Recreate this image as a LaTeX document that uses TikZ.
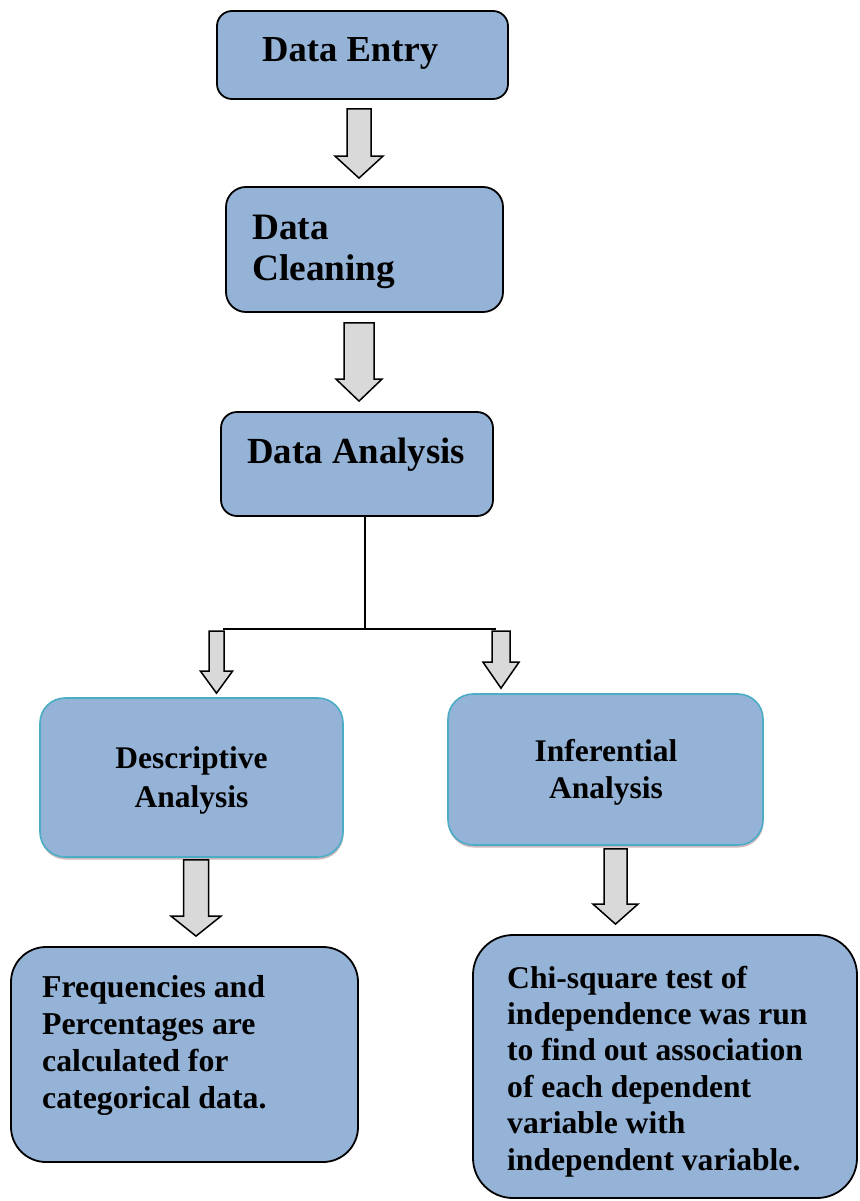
\documentclass[tikz,border=0pt]{standalone}
\usepackage{fontspec}
\setmainfont{Liberation Serif}
\usetikzlibrary{calc,shadows}
\definecolor{boxblue}{HTML}{95B3D7}
\definecolor{tealline}{HTML}{4BACC6}
\definecolor{arrowgray}{HTML}{D9D9D9}
\definecolor{shadowcol}{HTML}{B79A9E}
\tikzset{
  box/.style={draw=black, line width=1.8pt, fill=boxblue, rounded corners=#1, inner sep=0pt},
  softbox/.style={draw=tealline, line width=1.6pt, fill=boxblue, rounded corners=#1, inner sep=0pt,
    drop shadow={shadow xshift=0.5pt, shadow yshift=-2.5pt, fill=shadowcol, opacity=0.7}},
  blockarr/.style={draw=black, line width=1.5pt, fill=arrowgray, line join=miter},
  conn/.style={draw=black, line width=1.6pt},
  txt/.style={inner sep=0pt, text=black, font=\bfseries},
}
\newcommand{\blockarrow}[5]{%
  \draw[blockarr] ($(#2|-#1)+(-#3,0)$) -- ($(#2)+(-#3,-#5)$) -- ($(#2)+(-#4,-#5)$) -- (#2)
    -- ($(#2)+(#4,-#5)$) -- ($(#2)+(#3,-#5)$) -- ($(#2|-#1)+(#3,0)$) -- cycle;}
\begin{document}
\begin{tikzpicture}[x=1pt,y=-1pt]
\useasboundingbox (0,0) rectangle (859,1201);
% boxes
\node[box=15pt, minimum width=291pt, minimum height=88pt] (entry) at (362.5,55) {};
\node[box=20pt, minimum width=277pt, minimum height=125pt] (cleaning) at (364.5,249.5) {};
\node[box=16pt, minimum width=272pt, minimum height=104pt] (analysis) at (357,464) {};
\node[softbox=25pt, minimum width=303pt, minimum height=159pt] (desc) at (191.5,777.5) {};
\node[softbox=25pt, minimum width=315pt, minimum height=151pt] (inf) at (605.5,769.5) {};
\node[box=35pt, minimum width=347pt, minimum height=215pt] (freq) at (184.5,1054.5) {};
\node[box=40pt, minimum width=384pt, minimum height=263pt] (chi) at (665,1066.5) {};
% texts
\node[txt, anchor=base west, font=\bfseries\fontsize{36.6}{44}\selectfont] (entrytxt) at (262,62) {Data Entry};
\node[txt, anchor=base west, align=left, font=\bfseries\fontsize{37.3}{41}\selectfont] (cleaningtxt) at (252,280) {Data\\Cleaning};
\node[txt, anchor=base west, font=\bfseries\fontsize{36.8}{44}\selectfont] (analysistxt) at (247,463) {Data Analysis};
\node[txt, anchor=base, align=center, font=\bfseries\fontsize{31.5}{39}\selectfont] (desctxt) at (191.5,807) {Descriptive\\Analysis};
\node[txt, anchor=base, align=center, font=\bfseries\fontsize{31.5}{36.5}\selectfont] (inftxt) at (606,798) {Inferential\\Analysis};
\node[txt, anchor=base west, align=left, font=\bfseries\fontsize{31.8}{36.7}\selectfont] (freqtxt) at (42,1108)
  {Frequencies and\\Percentages are\\calculated for\\categorical data.};
\node[txt, anchor=base west, align=left, font=\bfseries\fontsize{31.6}{36.4}\selectfont] (chitxt) at (507,1170)
  {Chi-square test of\\independence was run\\to find out association\\of each dependent\\variable with\\independent variable.};
% arrow anchor coordinates
\coordinate (a1s) at ($(entry.south)+(-3.5,9)$);
\coordinate (a1t) at ($(cleaning.north)+(-5.5,-8)$);
\coordinate (a2s) at ($(cleaning.south)+(-5.5,10)$);
\coordinate (a2t) at ($(analysis.north)+(2,-10)$);
\coordinate (split) at (365,629);
\coordinate (hl) at (223,629);
\coordinate (hr) at (496,629);
\coordinate (als) at (216.5,631);
\coordinate (alt) at ($(desc.north)+(25,-4)$);
\coordinate (ars) at (501,631);
\coordinate (art) at ($(inf.north)+(-104.5,-5)$);
\coordinate (ads) at ($(desc.south)+(4,2)$);
\coordinate (adt) at ($(freq.north)+(11.5,-10)$);
\coordinate (ais) at ($(inf.south)+(10,3)$);
\coordinate (ait) at ($(chi.north)+(-49.5,-10)$);
% connectors
\blockarrow{a1s}{a1t}{12}{24}{22}
\blockarrow{a2s}{a2t}{15}{23}{22}
\draw[conn] (split |- analysis.south) -- (split);
\draw[conn] (hl) -- (hr);
\blockarrow{als}{alt}{7.5}{16}{22}
\blockarrow{ars}{art}{9}{18}{26}
\blockarrow{ads}{adt}{12.5}{25}{20}
\blockarrow{ais}{ait}{11.5}{22.5}{20}
\end{tikzpicture}
\end{document}
